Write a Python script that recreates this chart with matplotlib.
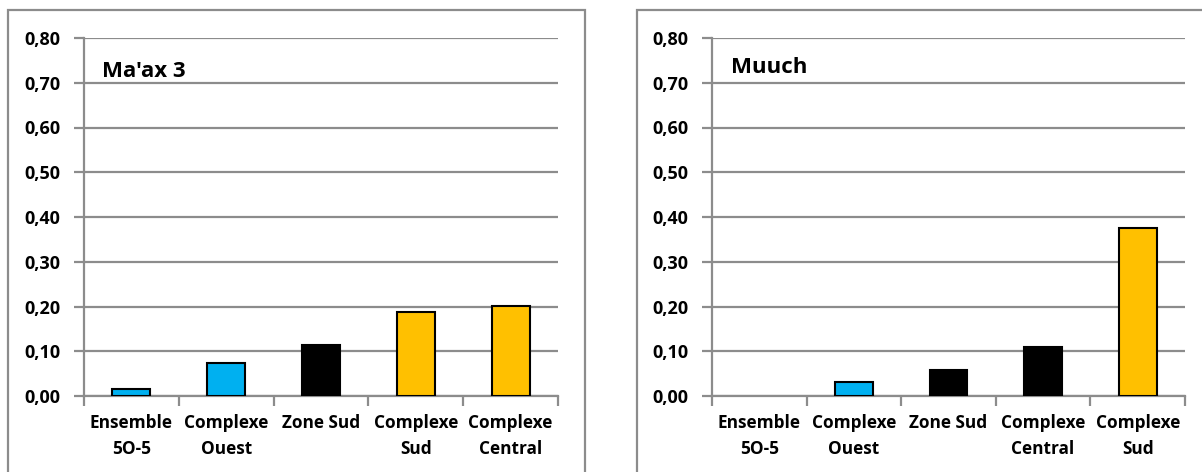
import matplotlib
matplotlib.use('Agg')
import matplotlib.pyplot as plt
from matplotlib.patches import Rectangle
from matplotlib.ticker import FuncFormatter, FixedLocator
import numpy as np

plt.rcParams['font.family'] = ['Open Sans', 'DejaVu Sans']
plt.rcParams['font.weight'] = 'bold'

# ── Data ──
maax_title = "Ma'ax 3"
maax_cats = ['Ensemble\n5O-5', 'Complexe\nOuest', 'Zone Sud', 'Complexe\nSud', 'Complexe\nCentral']
maax_vals = [0.015, 0.074, 0.114, 0.187, 0.202]
maax_cols = ['#00B0F0', '#00B0F0', '#000000', '#FFC000', '#FFC000']

muuch_title = 'Muuch'
muuch_cats = ['Ensemble\n5O-5', 'Complexe\nOuest', 'Zone Sud', 'Complexe\nCentral', 'Complexe\nSud']
muuch_vals = [0.0, 0.031, 0.058, 0.110, 0.376]
muuch_cols = ['#00B0F0', '#00B0F0', '#000000', '#000000', '#FFC000']

yticks = [0.0, 0.1, 0.2, 0.3, 0.4, 0.5, 0.6, 0.7, 0.8]

W, H = 1202, 472
fig = plt.figure(figsize=(W / 100, H / 100), dpi=100)
fig.patch.set_facecolor('white')

GRAY = '#8C8C8C'

# outer frames of the two chart boxes
for x0, x1 in [(8, 585), (637, 1215)]:
    fig.patches.append(Rectangle((x0 / W, -0.05), (x1 - x0) / W, 1.05 - 10 / H,
                                 transform=fig.transFigure, fill=False,
                                 edgecolor=GRAY, lw=1.6))


def panel(left, right, cats, vals, cols, title, tx, ty):
    bottom_px, top_px = 396, 38
    ax = fig.add_axes([left / W, 1 - bottom_px / H, (right - left) / W,
                       (bottom_px - top_px) / H])
    x = np.arange(len(cats))
    edges = ['black' if v > 0 else 'none' for v in vals]
    ax.bar(x, vals, width=0.4, color=cols, edgecolor=edges, lw=1.5, zorder=3)
    ax.set_xlim(-0.5, len(cats) - 0.5)
    ax.set_ylim(0, 0.8)
    ax.set_yticks(yticks)
    ax.yaxis.set_major_formatter(FuncFormatter(lambda v, p: f'{v:.2f}'.replace('.', ',')))
    ax.grid(axis='y', color=GRAY, lw=1.6, zorder=0)
    ax.set_axisbelow(True)
    for s in ['top', 'right']:
        ax.spines[s].set_visible(False)
    for s in ['left', 'bottom']:
        ax.spines[s].set_color(GRAY)
        ax.spines[s].set_linewidth(1.6)
    # major ticks at category boundaries, labels at centres
    ax.xaxis.set_major_locator(FixedLocator(np.arange(len(cats) + 1) - 0.5))
    ax.xaxis.set_minor_locator(FixedLocator(x))
    ax.set_xticklabels([])
    ax.set_xticklabels(cats, minor=True, fontsize=12.4, fontweight='bold', linespacing=1.55)
    ax.tick_params(axis='x', which='major', direction='out', length=7, width=1.6, color=GRAY)
    ax.tick_params(axis='x', which='minor', length=0, pad=13)
    ax.tick_params(axis='y', direction='out', length=7, width=1.6, color=GRAY,
                   labelsize=13, pad=10)
    for lab in ax.get_yticklabels():
        lab.set_fontweight('bold')
    ax.text(tx, ty, title, transform=ax.transAxes, fontsize=16, fontweight='bold',
            ha='left', va='baseline')
    return ax


panel(84, 558, maax_cats, maax_vals, maax_cols, maax_title, 0.038, 0.891)
panel(712, 1185, muuch_cats, muuch_vals, muuch_cols, muuch_title, 0.040, 0.902)

fig.savefig('out.png', dpi=100, facecolor='white')
